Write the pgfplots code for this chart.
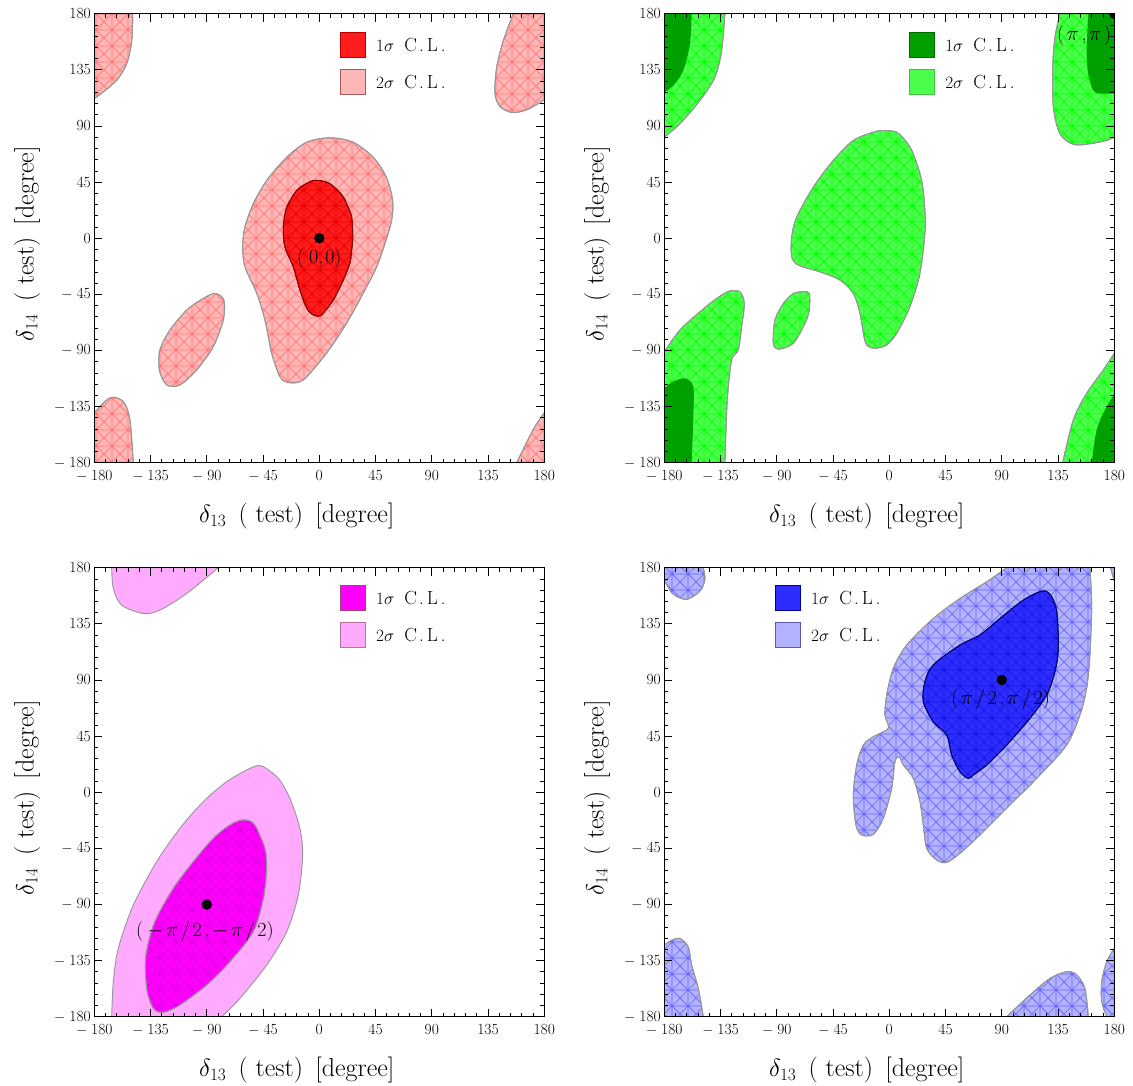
\documentclass[border=0pt]{standalone}
\usepackage{pgfplots}
\pgfplotsset{compat=1.18}
\usetikzlibrary{patterns.meta}
\definecolor{r1}{RGB}{255,28,28}
\definecolor{r2}{RGB}{255,182,182}
\definecolor{r1m}{RGB}{230,0,0}
\definecolor{r2m}{RGB}{255,120,120}
\definecolor{g1}{RGB}{0,160,0}
\definecolor{g2}{RGB}{77,255,77}
\definecolor{g2m}{RGB}{0,255,0}
\definecolor{m1}{RGB}{255,0,255}
\definecolor{m2}{RGB}{255,170,255}
\definecolor{m1m}{RGB}{225,0,225}
\definecolor{b1}{RGB}{45,45,255}
\definecolor{b2}{RGB}{178,178,255}
\definecolor{b1m}{RGB}{20,20,225}
\definecolor{b2m}{RGB}{100,100,255}
\definecolor{edge}{RGB}{150,150,150}
\pgfdeclarepattern{
  name=mesh,
  type=uncolored,
  bottom left={\pgfpoint{-1pt}{-1pt}},
  top right={\pgfpoint{17pt}{17pt}},
  tile size={\pgfpoint{16pt}{16pt}},
  code={
    \pgfsetlinewidth{0.7pt}
    \pgfpathmoveto{\pgfpoint{0pt}{0pt}}\pgfpathlineto{\pgfpoint{16pt}{0pt}}
    \pgfpathmoveto{\pgfpoint{0pt}{0pt}}\pgfpathlineto{\pgfpoint{0pt}{16pt}}
    \pgfpathmoveto{\pgfpoint{0pt}{0pt}}\pgfpathlineto{\pgfpoint{16pt}{16pt}}
    \pgfpathmoveto{\pgfpoint{0pt}{16pt}}\pgfpathlineto{\pgfpoint{16pt}{0pt}}
    \pgfusepath{stroke}
  }
}
\pgfplotsset{
  panel/.style={
    width=450pt, height=449pt, scale only axis,
    xmin=-180, xmax=180, ymin=-180, ymax=180,
    xtick={-180,-135,...,180}, ytick={-180,-135,...,180},
    xticklabels={$-$\hspace{4pt}180,$-$\hspace{4pt}135,$-$\hspace{4pt}90,$-$\hspace{4pt}45,0,45,90,135,180},
    yticklabels={$-$\hspace{4pt}180,$-$\hspace{4pt}135,$-$\hspace{4pt}90,$-$\hspace{4pt}45,0,45,90,135,180},
    minor tick num=4,
    tick align=inside,
    major tick length=8pt, minor tick length=4pt,
    every tick/.style={black, line width=0.7pt},
    axis line style={line width=1pt},
    tick label style={font=\fontsize{15.5}{15.5}\selectfont},
    xticklabel style={yshift=-4pt},
    clip marker paths=true,
    axis on top,
    xlabel={$\delta_{13}$ \,( test) \,[degree]},
    ylabel={$\delta_{14}$ \,( test) \,[degree]},
    every axis x label/.style={at={(axis description cs:0.45,-0.134)}, anchor=base, font=\fontsize{26}{26}\selectfont},
    every axis y label/.style={at={(axis description cs:-0.135,0.488)}, rotate=90, anchor=base, font=\fontsize{26}{26}\selectfont},
  },
  s2/.style={draw=edge, line width=0.9pt, fill=#1},
  pt/.style={only marks, mark=*, mark size=5pt, black},
}
\newcommand{\CL}[1]{$#1\sigma$\hspace{10pt}C\hspace{2pt}.\hspace{3pt}L\hspace{3pt}.}
\newcommand{\legendbox}[6]{%
  \draw[fill=#3, draw=#4, line width=0.8pt] (rel axis cs:#1,#2) rectangle ++(25pt,-25pt);
  \node[anchor=west, font=\fontsize{19}{19}\selectfont, inner sep=0pt] at ([xshift=36pt,yshift=-12.5pt]rel axis cs:#1,#2) {\CL{1}};
  \draw[fill=#5, draw=#6, line width=0.8pt] ([yshift=-37pt]rel axis cs:#1,#2) rectangle ++(25pt,-25pt);
  \node[anchor=west, font=\fontsize{19}{19}\selectfont, inner sep=0pt] at ([xshift=36pt,yshift=-49.5pt]rel axis cs:#1,#2) {\CL{2}};
}
\newcommand{\lab}{\fontsize{20}{20}\selectfont}
\newcommand{\g}{\hspace{2.6pt}}
\begin{document}
\begin{tikzpicture}
\useasboundingbox (0pt,0pt) rectangle (1133pt,-1086pt);
% ---------------- Panel 1 (red) ----------------
\begin{axis}[panel, at={(94.3pt,-462.7pt)}, anchor=south west]
\addplot[s2=r2, smooth cycle, postaction={pattern={mesh}, pattern color=r2m}] coordinates {(8.5,80.5) (27,77) (43,65) (53.6,49) (58.7,30.4) (57.9,14.4) (52.5,-4.3) (45.9,-23) (35.2,-44) (21.9,-68) (5.9,-92) (-12.8,-113.6) (-24.8,-115.7) (-31.5,-111) (-38.1,-92.3) (-43.5,-65.6) (-50,-44.3) (-59.5,-23) (-61.3,-7) (-59.5,9) (-52.8,27.7) (-42,46.4) (-26,65) (-10,77)};
\addplot[s2=r2, smooth cycle, postaction={pattern={mesh}, pattern color=r2m}] coordinates {(-83.5,-44.3) (-76.3,-49.6) (-76.8,-65.6) (-84.8,-86.9) (-98.1,-105.6) (-111.5,-117.6) (-122.1,-117.6) (-128,-105.6) (-127.5,-89.6) (-119.5,-73.6) (-106,-57.6) (-92.8,-48.3)};
\addplot[s2=r2, smooth, postaction={pattern={mesh}, pattern color=r2m}] coordinates {(-180,112) (-172.8,117.3) (-162,126.7) (-154,140) (-150,158.4) (-149.3,180)} -- (axis cs:-180,180) -- cycle;
\addplot[s2=r2, smooth, postaction={pattern={mesh}, pattern color=r2m}] coordinates {(-180,-140) (-167.5,-128) (-156.8,-131) (-151.5,-145.6) (-148.8,-180)} -- (axis cs:-180,-180) -- cycle;
\addplot[s2=r2, smooth, postaction={pattern={mesh}, pattern color=r2m}] coordinates {(155.2,180) (147.2,158.4) (141.9,137) (140.5,116) (144.5,105.6) (153.9,100.8) (165.9,102.9) (180,110.9)} -- (axis cs:180,180) -- cycle;
\addplot[s2=r2, smooth, postaction={pattern={mesh}, pattern color=r2m}] coordinates {(180,-140) (171.2,-153.3) (157.9,-180)} -- (axis cs:180,-180) -- cycle;
\addplot[draw=red!50!black, line width=0.9pt, fill=r1, smooth cycle, postaction={pattern={mesh}, pattern color=r1m}] coordinates {(-4.8,46.2) (2,46) (8.5,43.7) (15,38) (19.2,33) (23.5,24) (25.9,17) (26.7,5) (26.7,-1.6) (25.5,-13) (24.5,-20) (19.2,-33.6) (11.2,-49.6) (4,-59) (0.5,-62.4) (-4.8,-61.6) (-10,-56.3) (-15.5,-41.6) (-20.8,-23) (-27.5,-7) (-28.8,9) (-26,25) (-18,38.4) (-10,44)};
\addplot[pt] coordinates {(0,0)};
\node[font=\lab] at (axis cs:0,-16) {(\hspace{5pt}0,\hspace{2pt}0)};
\legendbox{0.546}{0.958}{r1}{red!70!black}{r2}{red!30!gray}
\end{axis}
% ---------------- Panel 2 (green) ----------------
\begin{axis}[panel, at={(664.3pt,-462.7pt)}, anchor=south west]
\addplot[s2=g2, smooth cycle, postaction={pattern={mesh}, pattern color=g2m}] coordinates {(-4.8,86.4) (-12.8,85) (-28.8,78.4) (-44.8,62.4) (-60.8,41) (-74.1,17) (-78.1,1) (-78.1,-15) (-72.8,-21.6) (-55.5,-27) (-39.5,-33.6) (-28.8,-44.3) (-23.5,-60.3) (-20.8,-76.3) (-18.1,-85.6) (-11.5,-88.3) (-2.1,-85.6) (5.9,-76.3) (16.5,-55) (24.5,-28.3) (28.5,3.7) (28.5,22.4) (25.9,46.4) (19.2,67.7) (13.9,77) (5.9,85)};
\addplot[s2=g2, smooth cycle, postaction={pattern={mesh}, pattern color=g2m}] coordinates {(-68.8,-43) (-64,-44.3) (-64,-57.6) (-67.5,-68.3) (-76.8,-84.3) (-88.8,-89) (-92.8,-84.3) (-91.5,-65.6) (-84.8,-52.3) (-76.8,-44.3)};
\addplot[s2=g2, smooth, postaction={pattern={mesh}, pattern color=g2m}] coordinates {(-180,-91) (-167.5,-73.6) (-151.5,-59) (-138.1,-48.3) (-128,-42.4) (-119.5,-43) (-116,-52.3) (-118.1,-71) (-120.8,-89.6) (-126.1,-97.6) (-129.6,-129.6) (-131.5,-180)} -- (axis cs:-180,-180) -- cycle;
\addplot[s2=g2, smooth, postaction={pattern={mesh}, pattern color=g2m}] coordinates {(-180,81) (-167.5,91.7) (-151.5,110.4) (-139.5,129) (-134.1,150.4) (-131.5,180)} -- (axis cs:-180,180) -- cycle;
\addplot[s2=g2, smooth, postaction={pattern={mesh}, pattern color=g2m}] coordinates {(136.5,180) (132.5,161) (130.7,137) (131.2,105) (136.5,83.7) (147.2,75.2) (160.5,75.7) (173.9,78.4) (180,81)} -- (axis cs:180,180) -- cycle;
\addplot[s2=g2, smooth, postaction={pattern={mesh}, pattern color=g2m}] coordinates {(180,-92.3) (171.2,-105.6) (157.9,-124.3) (147.2,-145.6) (138.7,-180)} -- (axis cs:180,-180) -- cycle;
\addplot[draw=none, fill=g1, smooth] coordinates {(-180,-120.3) (-172.8,-115) (-163.5,-112.3) (-156.8,-119) (-156.8,-143) (-158.1,-180)} -- (axis cs:-180,-180) -- cycle;
\addplot[draw=none, fill=g1, smooth] coordinates {(-180,117) (-172.8,122.4) (-164.8,134.4) (-159.5,155.7) (-158.1,180)} -- (axis cs:-180,180) -- cycle;
\addplot[draw=none, fill=g1, smooth] coordinates {(159.2,180) (157.9,150.4) (159.2,131.7) (164.5,117) (180,116.3)} -- (axis cs:180,180) -- cycle;
\addplot[draw=none, fill=g1, smooth] coordinates {(180,-125.6) (173.9,-135) (165.9,-153.6) (161.9,-180)} -- (axis cs:180,-180) -- cycle;
\addplot[pt] coordinates {(180,180)};
\node[font=\lab] at (axis cs:155.8,162.6) {(\g$\pi$\g,\g$\pi$\g)};
\legendbox{0.544}{0.958}{g1}{green!40!black}{g2}{green!50!gray}
\end{axis}
% ---------------- Panel 3 (magenta) ----------------
\begin{axis}[panel, at={(94.3pt,-1016.7pt)}, anchor=south west]
\addplot[s2=m2, smooth] coordinates {(-78.1,-180) (-63.5,-165.3) (-42.1,-138.6) (-26.1,-111.8) (-16.8,-82.4) (-13.3,-50.4) (-15.5,-29) (-23.5,-5) (-32.8,11.1) (-46.1,21) (-55.5,19.1) (-74.1,8.4) (-92.8,-7.6) (-111.5,-29) (-130.1,-55.7) (-148.8,-90.5) (-160.8,-125.2) (-164.8,-152) (-166.1,-180)} -- cycle;
\addplot[s2=m2, smooth] coordinates {(-166.1,180) (-164.8,163.4) (-158.1,150) (-140.8,143.3) (-127.5,146) (-106.1,159.3) (-80.8,180)} -- cycle;
\addplot[s2=m1, smooth cycle, postaction={pattern={mesh}, pattern color=m1m}] coordinates {(-62.1,-22.3) (-71.5,-26.3) (-84.8,-37) (-100.8,-55.7) (-116.8,-77.1) (-131.5,-103.8) (-138.7,-130.6) (-138.1,-157.3) (-132.8,-173.3) (-124.8,-176.5) (-111.5,-170.6) (-90.1,-154.6) (-71.5,-135.9) (-52.8,-111.8) (-44.8,-85.1) (-42.1,-61.1) (-43.5,-45) (-50.1,-29) (-54.1,-23.7)};
\addplot[pt] coordinates {(-90,-90)};
\node[font=\lab] at (axis cs:-91.5,-112) {(\hspace{4pt}$-$\g$\pi$\g/\g2\g,\g$-$\g$\pi$\g/\g2)};
\legendbox{0.546}{0.961}{m1}{magenta!60!black}{m2}{magenta!40!gray}
\end{axis}
% ---------------- Panel 4 (blue) ----------------
\begin{axis}[panel, at={(664.3pt,-1016.7pt)}, anchor=south west]
\addplot[s2=b2, smooth, postaction={pattern={mesh}, pattern color=b2m}] coordinates {(160.5,180) (161.9,150) (160.5,110) (157.9,83.3) (152.5,61.9) (141.9,37.8) (120.5,13.8) (93.9,-12.9) (72.5,-34.3) (56.5,-49) (45.9,-56.3) (37.9,-54.4) (29.9,-45) (27.2,-26.3) (24.5,-7.6) (19.2,11.1) (11.2,21.8) (8,28.4) (4.5,24.4) (1.9,3.1) (-4.8,-20.9) (-12.8,-33.8) (-22.1,-34.3) (-26.7,-26.3) (-28.8,-2.3) (-26.1,21.8) (-20.8,37.8) (-12.8,44.5) (-0.8,51.2) (-3.5,61.9) (-2.1,77.9) (3.2,99.3) (13.9,118) (35.2,139.3) (56.5,155.3) (77.9,168.7) (93.9,180)} -- cycle;
\addplot[s2=b2, smooth, postaction={pattern={mesh}, pattern color=b2m}] coordinates {(-180,170) (-178.1,166.6) (-172.8,158.6) (-162.1,154.6) (-151.5,161.2) (-147.5,170.6) (-148.8,180)} -- (axis cs:-180,180) -- cycle;
\addplot[s2=b2, postaction={pattern={mesh}, pattern color=b2m}] coordinates {(176.8,180) (180,180) (180,169.3)} -- cycle;
\addplot[s2=b2, smooth, postaction={pattern={mesh}, pattern color=b2m}] coordinates {(-180,-122.5) (-174.1,-118.7) (-167.5,-117.3) (-160.8,-124) (-158.1,-138.6) (-152.8,-157.3) (-148.8,-180)} -- (axis cs:-180,-180) -- cycle;
\addplot[s2=b2, smooth, postaction={pattern={mesh}, pattern color=b2m}] coordinates {(93.9,-180) (112.5,-162.6) (128.5,-149.3) (141.9,-143.9) (149.9,-146.5) (156.5,-157.3) (159.2,-180)} -- cycle;
\addplot[s2=b2, smooth, postaction={pattern={mesh}, pattern color=b2m}] coordinates {(180,-125.2) (173.9,-135.9) (169.9,-151.9) (169.9,-167.9) (173.9,-180)} -- (axis cs:180,-180) -- cycle;
\addplot[draw=blue!40!black, line width=0.9pt, fill=b1, smooth cycle, postaction={pattern={mesh}, pattern color=b1m}] coordinates {(121.9,161.2) (128.5,158.8) (133.9,145.5) (135.2,115.3) (132.5,96.6) (125.9,77.9) (112.5,59.2) (93.9,37.8) (77.9,21.8) (67.2,13.8) (63.2,11.1) (56.5,16.4) (49.9,29.8) (45.9,45.8) (35.2,56.5) (27.2,72.6) (28.5,88.6) (35.2,102) (56.5,118) (72.5,126) (88.5,139.3) (107.2,154)};
\addplot[pt] coordinates {(90,90)};
\node[font=\lab] at (axis cs:89,74) {(\g$\pi$\g/\g2\g,\g$\pi$\g/\g2)};
\legendbox{0.246}{0.961}{b1}{blue!60!black}{b2}{blue!30!gray}
\end{axis}
\end{tikzpicture}
\end{document}
